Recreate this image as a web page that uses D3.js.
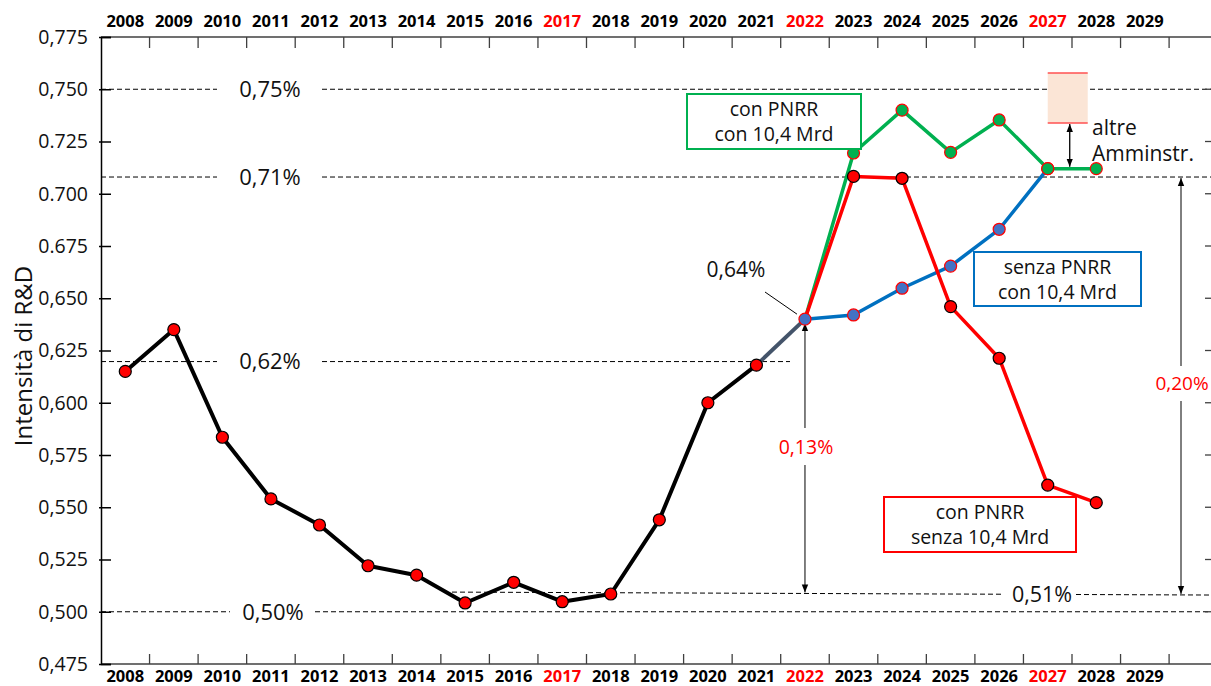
<!DOCTYPE html>
<html><head><meta charset="utf-8">
<script src="https://cdn.jsdelivr.net/npm/d3@7"></script>
<style>
html,body{margin:0;padding:0;background:#fff;}
svg{display:block;font-family:"Open Sans",sans-serif;}
</style></head><body>
<svg id="chart" width="1211" height="686"></svg>
<script>
// ---------- DATA ----------
const years = [2008,2009,2010,2011,2012,2013,2014,2015,2016,2017,2018,2019,2020,2021,2022,2023,2024,2025,2026,2027,2028,2029];
const yearLabels = ["2008","2009","2010","2011","2012","2013","2014","2015","2016","2017","2018","2019","2020","2021","2022","2023","2024","2025","2026","2027","2028","2029"];
const highlightYears = [2017,2022,2027];

const yTicks = [0.475,0.500,0.525,0.550,0.575,0.600,0.625,0.650,0.675,0.700,0.725,0.750,0.775];
const yTickLabels = ["0,475","0,500","0,525","0,550","0,575","0,600","0,625","0,650","0.675","0.700","0.725","0,750","0,775"];

// historical series 2008-2022
const histYears  = [2008,2009,2010,2011,2012,2013,2014,2015,2016,2017,2018,2019,2020,2021,2022];
const histValues = [0.615,0.635,0.5835,0.554,0.5415,0.522,0.5175,0.5042,0.5141,0.5048,0.5085,0.544,0.600,0.618,0.640];

// scenarios
const scenYears    = [2022,2023,2024,2025,2026,2027,2028];
const conPNRRcon   = [0.640,0.7195,0.7400,0.7198,0.7353,0.7120,0.7120];
const conPNRRsenza = [0.640,0.7083,0.7074,0.6460,0.6213,0.5606,0.5522];
const senzaYears   = [2022,2023,2024,2025,2026,2027];
const senzaPNRRcon = [0.640,0.6420,0.6548,0.6654,0.6830,0.7120];

// reference levels
const refValues = [0.750,0.708,0.6197,0.500];
const refLabels = ["0,75%","0,71%","0,62%","0,50%"];
const level051  = [0.5094,0.5080];
const altreBand = [0.7339,0.7578];

// ---------- CHART ----------
const svg = d3.select("#chart");
const L = 101, T = 37, B = 664, R = 1211;
const step = 48.55;

const x = d3.scaleBand().domain(years).range([L, L + years.length*step]).padding(0);
const cx = d => x(d) + x.bandwidth()/2;
const y = d3.scaleLinear().domain([0.475,0.775]).range([B, T]);

const defs = svg.append("defs");
defs.append("marker").attr("id","arr").attr("viewBox","0 0 10 10")
  .attr("refX",10).attr("refY",5).attr("markerWidth",8).attr("markerHeight",8)
  .attr("markerUnits","userSpaceOnUse").attr("orient","auto-start-reverse")
  .append("path").attr("d","M0,1 L10,5 L0,9 z").attr("fill","#000");

// dashed reference lines
const dash = "5,3";
const refSeg = [
  [[L,217],[322,R]],
  [[L,217],[322,R]],
  [[L,217],[322,790]],
  [[L,230],[315,R]]
];
refValues.forEach((v,i)=>{
  refSeg[i].forEach(s=>{
    svg.append("line").attr("x1",s[0]).attr("x2",s[1]).attr("y1",y(v)).attr("y2",y(v))
      .attr("stroke","#000").attr("stroke-width",1).attr("stroke-dasharray",dash);
  });
  svg.append("text").attr("x", i===3?273:270).attr("y",y(v)).attr("dy","0.36em")
    .attr("text-anchor","middle").attr("font-size",22).attr("fill","#111").text(refLabels[i]);
});
// 0,51% line (slightly slanted)
const l51 = d3.scaleLinear().domain([452,R]).range(level051);
[[452,1003],[1076,R]].forEach(s=>{
  svg.append("line").attr("x1",s[0]).attr("x2",s[1]).attr("y1",y(l51(s[0]))).attr("y2",y(l51(s[1])))
    .attr("stroke","#000").attr("stroke-width",1).attr("stroke-dasharray",dash);
});
svg.append("text").attr("x",1042).attr("y",y(l51(1040))).attr("dy","0.36em")
  .attr("text-anchor","middle").attr("font-size",21.5).attr("fill","#111").text("0,51%");

// axes
const axCol = "#404040";
svg.append("line").attr("x1",L).attr("x2",R).attr("y1",T).attr("y2",T).attr("stroke",axCol).attr("stroke-width",1.5);
svg.append("line").attr("x1",L).attr("x2",R).attr("y1",B).attr("y2",B).attr("stroke",axCol).attr("stroke-width",1.5);
// year boundary ticks
years.forEach(yr=>{
  const xb = x(yr) + x.bandwidth();
  svg.append("line").attr("x1",xb).attr("x2",xb).attr("y1",T).attr("y2",T+11).attr("stroke",axCol).attr("stroke-width",1.3);
  svg.append("line").attr("x1",xb).attr("x2",xb).attr("y1",B).attr("y2",B-10).attr("stroke",axCol).attr("stroke-width",1.3);
});
years.forEach((yr,i)=>{
  const col = highlightYears.includes(yr) ? "#ff0000" : "#000";
  [21,676].forEach(ty=>{
    svg.append("text").attr("x",cx(yr)).attr("y",ty).attr("dy","0.36em").attr("text-anchor","middle")
      .attr("font-size",16.5).attr("font-weight","bold").attr("fill",col).text(yearLabels[i]);
  });
});
// left axis
const yAxis = d3.axisLeft(y).tickValues(yTicks).tickSize(-10).tickPadding(13)
  .tickFormat((d,i)=>yTickLabels[i]);
const gy = svg.append("g").attr("transform",`translate(${L},0)`).call(yAxis);
gy.select(".domain").attr("stroke","#000").attr("stroke-width",1.5);
gy.selectAll(".tick line").attr("stroke","#000").attr("stroke-width",1.5).attr("x1",-2);
gy.selectAll(".tick text").attr("font-size",19.5).attr("font-family","Open Sans").attr("fill","#111");
// right side ticks
yTicks.slice(1,-1).forEach(v=>{
  svg.append("line").attr("x1",R-6).attr("x2",R).attr("y1",y(v)).attr("y2",y(v)).attr("stroke",axCol).attr("stroke-width",1.3);
});

// y-axis title
svg.append("text").attr("transform","translate(23,356) rotate(-90)").attr("dy","0.36em")
  .attr("text-anchor","middle").attr("font-size",24).attr("fill","#111").text("Intensità di R&D");

// measurement arrows
function vArrow(xp, y1, y2, startArrow, endArrow){
  const ln = svg.append("line").attr("x1",xp).attr("x2",xp).attr("y1",y1).attr("y2",y2)
    .attr("stroke","#000").attr("stroke-width",1);
  if(startArrow) ln.attr("marker-start","url(#arr)");
  if(endArrow) ln.attr("marker-end","url(#arr)");
}
const x13 = cx(2022);
vArrow(x13, y(0.640)+4, 428, true, false);
vArrow(x13, 465, y(l51(x13))-1, false, true);
svg.append("text").attr("x",x13+1).attr("y",447).attr("dy","0.36em").attr("text-anchor","middle")
  .attr("font-size",19.5).attr("fill","#ff0000").text("0,13%");
const x20 = 1181;
vArrow(x20, y(0.708)+1, 366, true, false);
vArrow(x20, 401, y(l51(x20))-1, false, true);
svg.append("text").attr("x",1182).attr("y",383).attr("dy","0.36em").attr("text-anchor","middle")
  .attr("font-size",19).attr("fill","#ff0000").text("0,20%");

// series lines
const line = d3.line().x(d=>cx(d[0])).y(d=>y(d[1]));
const zip = (a,b)=>a.map((v,i)=>[v,b[i]]);
const hist = zip(histYears,histValues);
svg.append("path").attr("d",line(hist.slice(0,14))).attr("fill","none").attr("stroke","#000").attr("stroke-width",4).attr("stroke-linejoin","round");
svg.append("path").attr("d",line(hist.slice(13,15))).attr("fill","none").attr("stroke","#44546a").attr("stroke-width",4);
svg.append("path").attr("d",line(zip(senzaYears,senzaPNRRcon))).attr("fill","none").attr("stroke","#0070c0").attr("stroke-width",3.5).attr("stroke-linejoin","round");
svg.append("path").attr("d",line(zip(scenYears,conPNRRcon))).attr("fill","none").attr("stroke","#00b050").attr("stroke-width",3.5).attr("stroke-linejoin","round");
svg.append("path").attr("d",line(zip(scenYears,conPNRRsenza))).attr("fill","none").attr("stroke","#ff0000").attr("stroke-width",3.5).attr("stroke-linejoin","round");

function pts(data, fill, stroke){
  svg.append("g").selectAll("circle").data(data).join("circle")
    .attr("cx",d=>cx(d[0])).attr("cy",d=>y(d[1])).attr("r",6)
    .attr("fill",fill).attr("stroke",stroke).attr("stroke-width",1.2);
}
pts(hist.slice(0,14), "#ff0000", "#000");
pts(zip(scenYears,conPNRRsenza).slice(1), "#ff0000", "#000");
pts(zip(senzaYears,senzaPNRRcon), "#4472c4", "#ff0000");
pts(zip(scenYears,conPNRRcon).slice(1), "#00b050", "#ff0000");

// 0,64% label with leader
svg.append("line").attr("x1",765).attr("y1",292).attr("x2",cx(2022)-8).attr("y2",y(0.640)-5)
  .attr("stroke","#000").attr("stroke-width",1);
svg.append("text").attr("x",736).attr("y",269).attr("dy","0.36em").attr("text-anchor","middle")
  .attr("font-size",21).attr("fill","#111").text("0,64%");

// legend boxes (multi-line text as tspans)
function box(x0,y0,w,h,col,lines){
  svg.append("rect").attr("x",x0).attr("y",y0).attr("width",w).attr("height",h)
    .attr("fill","#fff").attr("stroke",col).attr("stroke-width",2);
  const gap = 25, cyc = y0 + h/2;
  const t = svg.append("text").attr("text-anchor","middle").attr("font-size",19.5).attr("fill","#111");
  lines.forEach((s,i)=>{
    t.append("tspan").attr("x",x0+w/2).attr("y",cyc + (i-0.5)*gap).attr("dy","0.36em").text(s);
  });
}
box(687,94,174,55,"#00b050",["con PNRR","con 10,4 Mrd"]);
box(974,252,167,54,"#0070c0",["senza PNRR","con 10,4 Mrd"]);
box(884,497,192,55,"#ff0000",["con PNRR","senza 10,4 Mrd"]);

// altre Amministrazioni band
const bx = cx(2027);
svg.append("rect").attr("x",bx).attr("y",y(altreBand[1])).attr("width",40)
  .attr("height",y(altreBand[0])-y(altreBand[1])).attr("fill","#fbe5d6");
altreBand.forEach(v=>{
  svg.append("line").attr("x1",bx).attr("x2",bx+40).attr("y1",y(v)).attr("y2",y(v))
    .attr("stroke","#ff5050").attr("stroke-width",1.5);
});
svg.append("line").attr("x1",bx+22).attr("x2",bx+22).attr("y1",y(altreBand[0])+1).attr("y2",y(0.712)-2)
  .attr("stroke","#000").attr("stroke-width",1.3).attr("marker-start","url(#arr)").attr("marker-end","url(#arr)");
const at = svg.append("text").attr("font-size",21).attr("fill","#111");
at.append("tspan").attr("x",1092).attr("y",127).attr("dy","0.36em").text("altre");
at.append("tspan").attr("x",1092).attr("y",153).attr("dy","0.36em").text("Amminstr.");
</script>
</body></html>
